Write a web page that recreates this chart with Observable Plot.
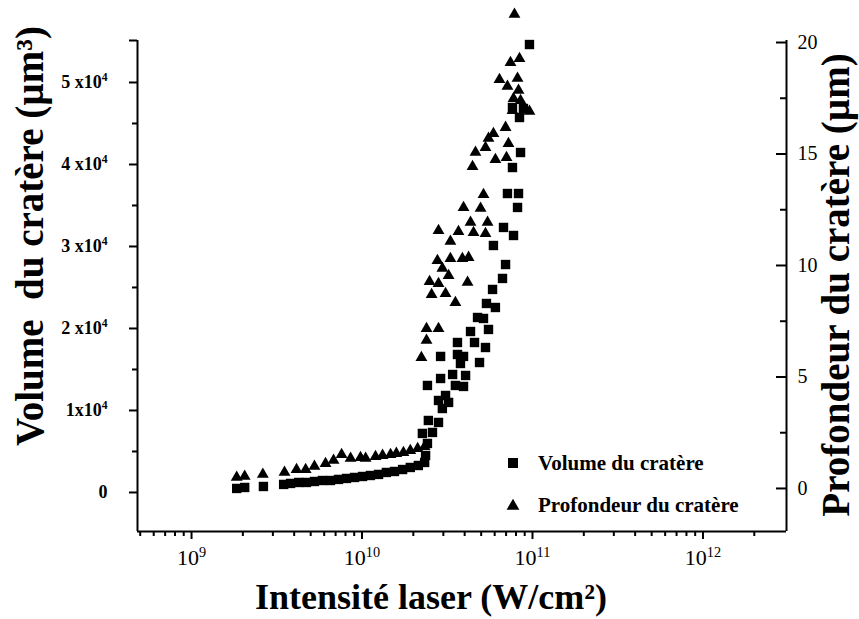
<!DOCTYPE html>
<html><head><meta charset="utf-8">
<script src="https://cdn.jsdelivr.net/npm/d3@7"></script>
<script src="https://cdn.jsdelivr.net/npm/@observablehq/plot@0.6"></script>
<style>body{margin:0;background:#fff}#chart{width:859px;height:619px}</style>
</head><body><div id="chart"></div>
<script>
// ---- axes / scale settings ----
const xDomain = [4.82e8, 3.09e12];
const volumeDomain = [-4760, 55120];
const depthDomain = [-1.93, 20.09];
const xMajorTicks = [1e9, 1e10, 1e11, 1e12];
const xMinorTicks = [5e8,6e8,7e8,8e8,9e8,2e9,3e9,4e9,5e9,6e9,7e9,8e9,9e9,2e10,3e10,4e10,5e10,6e10,7e10,8e10,9e10,2e11,3e11,4e11,5e11,6e11,7e11,8e11,9e11,2e12];
const volumeMajorTicks = [0, 1e4, 2e4, 3e4, 4e4, 5e4];
const volumeMinorTicks = [5e3, 1.5e4, 2.5e4, 3.5e4, 4.5e4];
const depthMajorTicks = [0, 5, 10, 15, 20];
const depthMinorTicks = [2.5, 7.5, 12.5, 17.5];

const xTitle = "Intensité laser (W/cm²)";
const leftTitle = "Volume  du cratère (µm³)";
const rightTitle = "Profondeur du cratère (µm)";
const legendLabels = ["Volume du cratère", "Profondeur du cratère"];

// ---- data: crater volume (µm³) vs laser intensity (W/cm²) ----
const volumeIntensity = [1.84e9,2.05e9,2.64e9,3.47e9,3.81e9,4.25e9,4.72e9,5.26e9,5.86e9,6.53e9,7.28e9,8.11e9,9.04e9,1.007e10,1.12e10,1.25e10,1.39e10,1.55e10,1.73e10,1.92e10,2.14e10,2.33e10,
  2.36e10,2.42e10,2.26e10,2.59e10,2.45e10,2.81e10,2.96e10,3.22e10,2.81e10,3.09e10,2.42e10,3.53e10,3.94e10,2.89e10,4.05e10,3.40e10,3.78e10,4.89e10,2.89e10,3.94e10,3.63e10,5.30e10,3.63e10,4.57e10,4.33e10,5.52e10,4.76e10,5.16e10,6.06e10,5.37e10,5.83e10,6.67e10,6.95e10,
  5.90e10,7.74e10,6.76e10,8.17e10,7.13e10,8.28e10,7.63e10,8.51e10,7.63e10,8.39e10,8.85e10,9.60e10];
const volumeValues = [490,610,730,980,1100,1220,1220,1340,1460,1460,1590,1710,1830,1950,2070,2200,2440,2560,2800,3050,3290,3660,
  4510,5980,7200,7320,8780,8540,10240,10980,11220,11830,13050,13050,12930,13900,14270,14390,15730,15850,16590,16590,16830,17680,18290,18290,19630,19880,21340,21220,22560,23050,24760,26100,27800,
  30120,31340,32320,34760,36460,36460,39630,41460,46950,45730,46830,54630];

// ---- data: crater depth (µm) vs laser intensity (W/cm²) ----
const depthIntensity = [1.84e9,2.05e9,2.62e9,3.51e9,4.13e9,4.67e9,5.26e9,6.11e9,6.81e9,7.59e9,8.57e9,9.80e9,1.05e10,1.20e10,1.32e10,1.47e10,1.59e10,1.75e10,1.92e10,2.12e10,2.33e10,
  2.23e10,2.39e10,2.39e10,2.81e10,2.49e10,2.56e10,2.77e10,2.81e10,2.96e10,3.09e10,3.22e10,3.30e10,3.53e10,3.88e10,4.16e10,4.22e10,
  2.81e10,3.30e10,3.68e10,4.33e10,4.51e10,5.45e10,5.30e10,3.94e10,4.96e10,5.16e10,4.45e10,4.63e10,5.30e10,5.52e10,5.90e10,6.06e10,7.04e10,6.95e10,7.23e10,6.40e10,8.17e10,7.13e10,8.28e10,7.74e10,8.51e10,7.63e10,9.60e10,7.43e10,8.39e10,7.84e10];
const depthValues = [0.50,0.54,0.63,0.72,0.85,0.85,0.99,1.12,1.26,1.52,1.35,1.39,1.35,1.43,1.48,1.52,1.57,1.61,1.70,1.79,1.88,
  5.87,6.64,7.17,7.17,9.28,8.70,10.22,9.19,9.87,8.74,9.55,10.31,8.34,10.31,9.24,10.36,
  11.57,11.08,11.52,11.93,11.48,11.93,11.43,12.60,12.56,13.18,14.44,15.07,15.29,15.70,15.92,14.75,14.84,16.19,15.47,18.34,18.39,18.03,17.85,17.49,17.40,16.95,16.91,19.10,19.28,21.26];

const volumeData = volumeIntensity.map((x, i) => ({x, y: volumeValues[i]}));
const depthData = depthIntensity.map((x, i) => ({x, y: depthValues[i]}));

// right (depth) axis shares the frame with the left (volume) axis
const toVol = d => volumeDomain[0] + (d - depthDomain[0]) * (volumeDomain[1] - volumeDomain[0]) / (depthDomain[1] - depthDomain[0]);
const fromVol = v => depthDomain[0] + (v - volumeDomain[0]) * (depthDomain[1] - depthDomain[0]) / (volumeDomain[1] - volumeDomain[0]);

const serif = "'Liberation Serif', 'Times New Roman', 'DejaVu Serif', serif";

const plot = Plot.plot({
  width: 859, height: 619,
  marginTop: 40, marginRight: 73, marginBottom: 88, marginLeft: 137,
  style: {fontFamily: serif, color: "black", background: "white", overflow: "visible"},
  x: {type: "log", domain: xDomain, label: null},
  y: {domain: volumeDomain, label: null},
  marks: [
    Plot.axisX({ticks: xMinorTicks, tickSize: 5, strokeWidth: 2, tickFormat: () => ""}),
    Plot.axisX({ticks: xMajorTicks, tickSize: 8, strokeWidth: 2, tickPadding: 10, fontSize: 22,
      tickFormat: d => "10|" + Math.round(Math.log10(d))}),
    Plot.axisY({anchor: "left", ticks: volumeMinorTicks, tickSize: 5, strokeWidth: 2, tickFormat: () => ""}),
    Plot.axisY({anchor: "left", ticks: [volumeDomain[1]], tickSize: 8, strokeWidth: 2, tickFormat: () => ""}),
    Plot.axisY({anchor: "left", ticks: volumeMajorTicks, tickSize: 8, strokeWidth: 2, tickPadding: 22,
      fontSize: 18, fontWeight: "bold",
      tickFormat: v => v === 0 ? "0" : (v / 1e4) + (v === 1e4 ? "" : " ") + "x10|4"}),
    Plot.axisY({anchor: "right", ticks: depthMinorTicks.map(toVol), tickSize: -7, strokeWidth: 2, tickFormat: () => ""}),
    Plot.axisY({anchor: "right", ticks: depthMajorTicks.map(toVol), tickSize: -11, strokeWidth: 2, tickFormat: () => ""}),
    Plot.axisY({anchor: "right", ticks: depthMajorTicks.map(toVol), tickSize: 0, tickPadding: 11, fontSize: 20,
      tickFormat: v => String(Math.round(fromVol(v)))}),
    Plot.ruleX(xDomain, {strokeWidth: 2}),
    Plot.ruleY([volumeDomain[0]], {strokeWidth: 2}),
    Plot.dot(volumeData, {x: "x", y: "y", symbol: "square", r: 5.3, fill: "black"}),
    Plot.dot(depthData, {x: "x", y: d => toVol(d.y), symbol: "triangle", r: 4.4, fill: "black"}),
    Plot.text([xTitle], {text: d => d, frameAnchor: "bottom", textAnchor: "middle", lineAnchor: "middle",
      dx: -31, dy: 66, fontSize: 36, fontWeight: "bold"}),
    Plot.text([leftTitle], {text: d => d, frameAnchor: "left", textAnchor: "middle", lineAnchor: "middle",
      dx: -107, dy: -50, rotate: -90, fontSize: 39, fontWeight: "bold"}),
    Plot.text([rightTitle], {text: d => d, frameAnchor: "right", textAnchor: "middle", lineAnchor: "middle",
      dx: 50, dy: -1, rotate: -90, fontSize: 39, fontWeight: "bold"})
  ]
});

const svg = d3.select(plot);
// superscripts for exponent labels
svg.selectAll("text").each(function () {
  const t = d3.select(this);
  const s = t.text();
  if (s.includes("|")) {
    const [base, sup] = s.split("|");
    t.text(base);
    t.append("tspan").attr("dy", "-0.6em").attr("font-size", "0.65em").text(sup);
  }
});

// legend
const lg = svg.append("g").attr("font-family", serif).attr("font-weight", "bold").attr("font-size", 21)
  .attr("fill", "black").attr("text-anchor", "start");
lg.append("rect").attr("x", 508).attr("y", 458).attr("width", 10).attr("height", 10);
lg.append("path").attr("d", d3.symbol(d3.symbolTriangle, 70)()).attr("transform", "translate(513,506)");
lg.append("text").attr("x", 538).attr("y", 463).attr("dy", "0.32em").text(legendLabels[0]);
lg.append("text").attr("x", 538).attr("y", 505).attr("dy", "0.32em").text(legendLabels[1]);

document.getElementById("chart").appendChild(plot);
</script></body></html>
